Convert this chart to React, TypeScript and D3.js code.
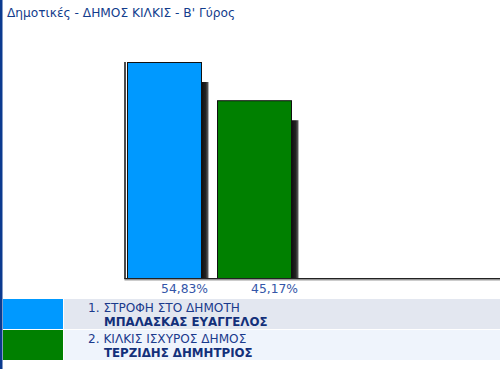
import React, { useEffect } from "react";
import * as d3 from "d3";

const title = "Δημοτικές - ΔΗΜΟΣ ΚΙΛΚΙΣ - Β' Γύρος";
const parties = ["1. ΣΤΡΟΦΗ ΣΤΟ ΔΗΜΟΤΗ", "2. ΚΙΛΚΙΣ ΙΣΧΥΡΟΣ ΔΗΜΟΣ"];
const candidates = ["ΜΠΑΛΑΣΚΑΣ ΕΥΑΓΓΕΛΟΣ", "ΤΕΡΖΙΔΗΣ ΔΗΜΗΤΡΙΟΣ"];
const values = [54.83, 45.17];
const colors = ["#0099ff", "#008000"];
const rowBgs = ["#e3e7f0", "#eff4fc"];

const W = 500;
const H = 369;
const font = "'DejaVu Sans', Verdana, sans-serif";

export default function App() {
  useEffect(() => {
    document.body.style.margin = "0";
  }, []);

  const x = d3
    .scaleBand<number>()
    .domain(values.map((_, i) => i))
    .range([127, 292])
    .paddingInner(1 / 6)
    .paddingOuter(0);
  const y = d3.scaleLinear().domain([0, 54.83]).range([279, 62]);
  const base = y(0);
  const fmt = (v: number) => d3.format(".2f")(v).replace(".", ",") + "%";

  return (
    <svg
      width={W}
      height={H}
      style={{ position: "absolute", left: 0, top: 0, display: "block" }}
      fontFamily={font}
    >
      <defs>
        <linearGradient id="shadow" x1="0" x2="1" y1="0" y2="0">
          <stop offset="0%" stopColor="#111" />
          <stop offset="55%" stopColor="#222" />
          <stop offset="100%" stopColor="#666" />
        </linearGradient>
      </defs>
      <rect x={0} y={0} width={W} height={H} fill="#fff" />
      <rect x={0} y={0} width={2.5} height={H} fill="#0b3a8f" />
      <text x={7} y={17} fontSize={12.2} fill="#123c8c">
        {title}
      </text>

      {values.map((v, i) => {
        const bx = x(i)!;
        const bw = x.bandwidth();
        const top = y(v);
        return (
          <g key={i}>
            <rect
              x={bx + bw}
              y={top + 20}
              width={6.5}
              height={base - top - 20}
              fill="url(#shadow)"
            />
            <rect
              x={bx + 0.5}
              y={top + 0.5}
              width={bw - 1}
              height={base - top - 1}
              fill={colors[i]}
              stroke="#111"
              strokeWidth={1}
            />
            <text
              x={bx + bw + 6}
              y={base + 14}
              fontSize={12.3}
              textAnchor="end"
              fill="#3456a8"
            >
              {fmt(v)}
            </text>
          </g>
        );
      })}

      <line x1={125} x2={125} y1={y.range()[1]} y2={base} stroke="#111" strokeWidth={1.5} />
      <line x1={124.5} x2={W} y1={base - 0.3} y2={base - 0.3} stroke="#222" strokeWidth={1.4} />
      <line x1={124.5} x2={W} y1={base + 1} y2={base + 1} stroke="#999" strokeWidth={1} />

      {parties.map((p, i) => {
        const ry = 299 + i * 31;
        return (
          <g key={p}>
            <rect x={3} y={ry} width={60} height={30} fill={colors[i]} />
            <rect x={64} y={ry} width={W - 64} height={30} fill={rowBgs[i]} />
            <text x={88} y={ry + 13} fontSize={12.1} fill="#1a3a8c">
              {p}
            </text>
            <text x={104} y={ry + 27} fontSize={11.8} fontWeight="bold" fill="#13307a">
              {candidates[i]}
            </text>
          </g>
        );
      })}
    </svg>
  );
}
